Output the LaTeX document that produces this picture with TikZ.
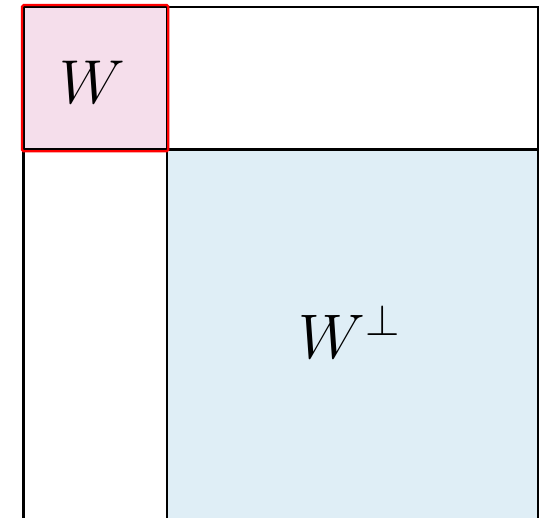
\RequirePackage{fix-cm}
\documentclass[tikz,border=0pt]{standalone}
\usepackage{tikz}
\definecolor{wpink}{RGB}{245,222,235}
\definecolor{wblue}{RGB}{223,238,246}
\tikzset{grid line/.style={line width=2.3pt, color=black}}

\begin{document}
\begin{tikzpicture}[x=1pt,y=-1pt]
\useasboundingbox (0,0) rectangle (545,518);
\clip (0,0) rectangle (545,518);
  \fill[wblue] (166.7,149.5) rectangle (538,521);
  \fill[wpink] (23.5,6.7) rectangle (166.7,149.5);

  \draw[grid line] (23.5,6.7) rectangle (538,521);
  \draw[grid line] (166.7,6.7)--(166.7,521);
  \draw[grid line] (23.5,149.5)--(538,149.5);

  % red frame round W, over the black lines
  \draw[line width=2.2pt, color=red, rounded corners=1.5pt] (22.0,5.1) rectangle (168.3,151.2);

  \node[inner sep=0pt] (w) at (92,82) {\fontsize{62}{70}\selectfont $W$};
  \node[inner sep=0pt] (wperp) at (349,331.5) {\fontsize{63}{70}\selectfont $W^{\perp}$};
\end{tikzpicture}
\end{document}
